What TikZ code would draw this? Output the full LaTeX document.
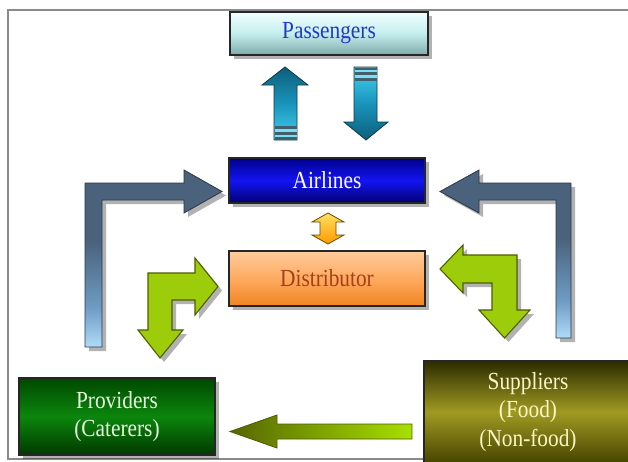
\documentclass[tikz,border=0pt]{standalone}
\usepackage{fontspec}
\usepackage{graphicx}
\setmainfont{Liberation Serif}
\usetikzlibrary{shadows}

% palette
\definecolor{frameline}{HTML}{8A8A8A}
\definecolor{passtop}{HTML}{F2FFFF}
\definecolor{passmid}{HTML}{C4EEEE}
\definecolor{passbot}{HTML}{7FAAAA}
\definecolor{passtext}{HTML}{2038C8}
\definecolor{airtop}{HTML}{00008C}
\definecolor{airmid}{HTML}{1414F4}
\definecolor{airbot}{HTML}{00006E}
\definecolor{distop}{HTML}{FFCC9C}
\definecolor{dismid}{HTML}{FFAA60}
\definecolor{disbot}{HTML}{F08420}
\definecolor{distext}{HTML}{A4401C}
\definecolor{provtop}{HTML}{004800}
\definecolor{provmid}{HTML}{0C860C}
\definecolor{provbot}{HTML}{003800}
\definecolor{provtext}{HTML}{E6F8E0}
\definecolor{suptop}{HTML}{2C2C00}
\definecolor{supmid}{HTML}{A09A22}
\definecolor{supbot}{HTML}{464400}
\definecolor{suptext}{HTML}{FAF6C4}
\definecolor{steeldark}{HTML}{4A627C}
\definecolor{steelmid}{HTML}{6E9CC4}
\definecolor{steellight}{HTML}{B0DCF8}
\definecolor{steeledge}{HTML}{2A3848}
\definecolor{leaf}{HTML}{9CCC0A}
\definecolor{leafedge}{HTML}{4E5C00}
\definecolor{tealdark}{HTML}{0C5E7A}
\definecolor{tealmid}{HTML}{1A94BC}
\definecolor{teallight}{HTML}{44D0F0}
\definecolor{tealedge}{HTML}{123846}
\definecolor{oliveleft}{HTML}{566600}
\definecolor{oliveright}{HTML}{A8E000}
\definecolor{ambertop}{HTML}{FFE060}
\definecolor{amberbot}{HTML}{FF9A00}
\definecolor{amberedge}{HTML}{6A4A00}

% steel-blue fade: dark across the arm, lightening down the long leg
\pgfdeclareverticalshading{steelfade}{100bp}{color(0bp)=(steellight); color(25bp)=(steellight); color(36bp)=(steelmid); color(55bp)=(steeldark); color(100bp)=(steeldark)}

% slightly tall lettering
\newcommand\tl[1]{\scalebox{1}[1.15]{#1}}

\tikzset{
  shade box/.style={drop shadow={shadow xshift=3pt, shadow yshift=-3pt, fill=black, opacity=0.3}},
  box/.style={draw=black!85, line width=0.8pt, align=center, inner sep=2pt,
    font=\fontsize{16}{21.5}\selectfont, shade box},
  steelarrow/.style={draw=steeledge, line width=0.6pt, shading=steelfade, shade box},
  leafarrow/.style={draw=leafedge, line width=0.8pt, fill=leaf, shade box},
  tealarrow/.style={draw=tealedge, line width=0.6pt},
  band dark/.style={fill=tealedge!80},
  band light/.style={fill=teallight!70!white},
}

\begin{document}
\begin{tikzpicture}[x=0.75pt, y=-0.75pt]
  \useasboundingbox (0,0) rectangle (628,461);
  \clip (0,0) rectangle (628,461);
  \fill[white] (0,0) rectangle (628,461);
  \draw[frameline, line width=1.1pt] (8,10) rectangle (700,459);

  % boxes
  \node[box, minimum width=148.5pt, minimum height=32.25pt,
        top color=passtop, bottom color=passbot, middle color=passmid,
        text=passtext] (pass) at (329,33.5) {\tl{Passengers}};
  \node[box, minimum width=147pt, minimum height=33.75pt,
        top color=airtop, bottom color=airbot, middle color=airmid,
        text=white] (air) at (327,180.5) {\tl{Airlines}};
  \node[box, minimum width=147pt, minimum height=41.25pt,
        top color=distop, bottom color=disbot, middle color=dismid,
        text=distext] (dist) at (327,278.5) {\tl{Distributor}};
  \node[box, minimum width=147pt, minimum height=57.75pt,
        top color=provtop, bottom color=provbot, middle color=provmid,
        text=provtext] (prov) at (117,416.5) {\tl{Providers}\\\tl{(Caterers)}};
  \node[box, minimum width=156pt, minimum height=76.5pt,
        top color=suptop, bottom color=supbot, middle color=supmid,
        text=suptext] (supp) at (528,412) {\tl{Suppliers}\\\tl{(Food)}\\\tl{(Non-food)}};

  % airlines -> passengers (up)
  \path[tealarrow, top color=tealdark, bottom color=teallight, middle color=tealmid]
    (274,140) -- (274,85) -- (262,85) -- (285,67) -- (308,85) -- (297,85) -- (297,140) -- cycle;
  \fill[band dark]  (274.5,126) rectangle (296.5,129);
  \fill[band light] (274.5,129) rectangle (296.5,132);
  \fill[band dark]  (274.5,132) rectangle (296.5,135);
  \fill[band light] (274.5,135) rectangle (296.5,137);
  \fill[band dark]  (274.5,137) rectangle (296.5,139.5);

  % passengers -> airlines (down)
  \path[tealarrow, top color=teallight, bottom color=tealdark, middle color=tealmid]
    (354,67) -- (377,67) -- (377,122) -- (388,122) -- (366,140) -- (344,122) -- (354,122) -- cycle;
  \fill[band dark]  (354.5,67.5) rectangle (376.5,70);
  \fill[band light] (354.5,70) rectangle (376.5,72);
  \fill[band dark]  (354.5,72) rectangle (376.5,75);
  \fill[band light] (354.5,75) rectangle (376.5,78);
  \fill[band dark]  (354.5,78) rectangle (376.5,81);

  % airlines <-> distributor
  \path[draw=amberedge, line width=0.6pt, top color=ambertop, bottom color=amberbot]
    (328,213) -- (344,222) -- (336,222) -- (336,235) -- (344,235) -- (328,244)
    -- (312,235) -- (320,235) -- (320,222) -- (312,222) -- cycle;

  % providers -> airlines
  \path[steelarrow]
    (85,347) -- (85,183) -- (184,183) -- (184,170) -- (222,191.5) -- (184,213)
    -- (184,200) -- (102,200) -- (102,347) -- cycle;

  % suppliers -> airlines
  \path[steelarrow]
    (571,338) -- (571,183) -- (479,183) -- (479,170) -- (440,191.5) -- (479,213)
    -- (479,200) -- (556,200) -- (556,338) -- cycle;

  % providers <-> distributor
  \path[leafarrow]
    (160,358) -- (138,330) -- (148,330) -- (148,273) -- (195,273) -- (195,258)
    -- (218,286.5) -- (195,315) -- (195,300) -- (172,300) -- (172,330) -- (183,330) -- cycle;

  % distributor <-> suppliers
  \path[leafarrow]
    (440,269) -- (463,245) -- (463,255) -- (517,255) -- (517,310) -- (530,310)
    -- (504.5,338) -- (479,310) -- (492,310) -- (492,283) -- (463,283) -- (463,293) -- cycle;

  % suppliers -> providers
  \path[draw=leafedge, line width=0.6pt, left color=oliveleft, right color=oliveright]
    (230,431.5) -- (277,415) -- (277,424) -- (412,424) -- (412,439) -- (277,439) -- (277,448) -- cycle;
\end{tikzpicture}
\end{document}
